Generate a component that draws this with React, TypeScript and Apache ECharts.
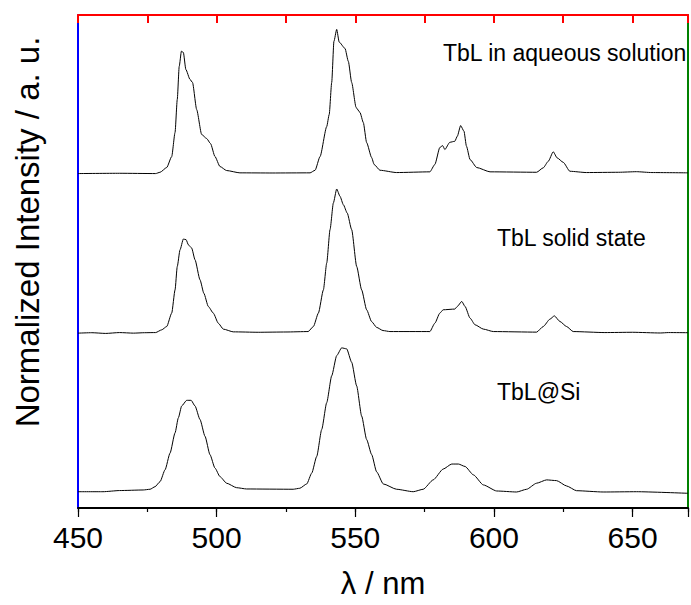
import React, { useEffect, useRef } from "react";
import * as echarts from "echarts";

// wavelength (nm), normalized intensity — TbL in aqueous solution
const aqueous: [number, number][] = [
  [450, 0], [465, 0.002], [478, 0.0], [479.6, 0.009], [482, 0.042], [483.8, 0.118], [485, 0.285],
  [485.8, 0.514], [486.5, 0.743], [487.3, 0.849], [488, 0.84], [488.9, 0.722], [490.4, 0.653],
  [491.3, 0.632], [492.8, 0.444], [494.6, 0.271], [496.4, 0.243], [497.8, 0.208], [499.4, 0.118],
  [501.2, 0.049], [503.6, 0.021], [508.4, 0.005], [520, 0.004], [533.7, 0.005], [535.5, 0.023],
  [537.3, 0.118], [539.7, 0.326], [540.6, 0.41], [541.5, 0.632], [542.3, 0.917], [543.3, 1.0],
  [544.2, 0.912], [546.3, 0.868], [547.5, 0.778], [548.7, 0.632], [550.3, 0.458], [551.7, 0.424],
  [552.9, 0.354], [554.1, 0.215], [555.9, 0.111], [556.8, 0.063], [558.9, 0.023], [564.9, 0.007],
  [576.9, 0.012], [578.7, 0.063], [580.5, 0.181], [581.5, 0.194], [582.3, 0.167], [584.1, 0.217],
  [585.9, 0.224], [586.8, 0.259], [588, 0.333], [589.2, 0.294], [590.1, 0.19], [591.4, 0.097],
  [593.8, 0.042], [598.6, 0.012], [615.4, 0.009], [617.8, 0.04], [619.6, 0.085], [621.4, 0.151],
  [622.8, 0.109], [625, 0.078], [627.4, 0.016], [633.4, 0.007], [645, 0.009], [651.4, 0.013],
  [657, 0.007], [670, 0.005],
];

// TbL solid state
const solid: [number, number][] = [
  [450, 0], [455, 0.003], [460, -0.002], [465, 0.004], [470, 0.0], [474, 0.003], [478, 0.004],
  [480.2, 0.023], [482, 0.046], [483.8, 0.139], [485, 0.3], [485.8, 0.462], [486.8, 0.578],
  [488, 0.653], [489, 0.648], [489.8, 0.613], [491, 0.59], [492.2, 0.509], [494, 0.37],
  [495.4, 0.276], [497, 0.185], [498.8, 0.139], [500.6, 0.069], [502.4, 0.028], [506, 0.009],
  [515, 0.006], [525, 0.008], [533, 0.011], [534.9, 0.046], [536.7, 0.139], [538.5, 0.3],
  [539.7, 0.486], [540.9, 0.718], [542.1, 0.903], [543.3, 1.0], [544.5, 0.949], [545.7, 0.891],
  [547.1, 0.833], [548.7, 0.718], [550.5, 0.463], [552.3, 0.3], [554.1, 0.162], [555.9, 0.08],
  [557.7, 0.04], [560, 0.018], [562.5, 0.011], [576.9, 0.011], [578.7, 0.069], [580.5, 0.139],
  [581.7, 0.162], [585.9, 0.167], [586.8, 0.185], [588.4, 0.22], [589.6, 0.185], [591.4, 0.104],
  [593.2, 0.058], [596.2, 0.028], [599.8, 0.011], [615.4, 0.007], [617.8, 0.046], [620.2, 0.097],
  [621.8, 0.12], [623.8, 0.081], [626.2, 0.046], [628.6, 0.011], [640, 0.004], [650, 0.006],
  [660, 0.001], [663, 0.004], [670, 0.003],
];

// TbL@Si
const silica: [number, number][] = [
  [450, 0.002], [459, 0.002], [465, 0.01], [473.5, 0.014], [476, 0.019], [477.8, 0.037],
  [479.6, 0.072], [481.4, 0.154], [483.2, 0.27], [485, 0.41], [486.2, 0.515], [487.4, 0.597],
  [489.2, 0.636], [490.8, 0.636], [492.2, 0.597], [494, 0.503], [495.8, 0.387], [497.6, 0.259],
  [499.4, 0.166], [501.2, 0.107], [503.6, 0.061], [507.2, 0.03], [510.8, 0.021], [527.6, 0.019],
  [530, 0.026], [532.5, 0.056], [534.3, 0.131], [536.1, 0.247], [537.9, 0.434], [539.7, 0.62],
  [541.5, 0.806], [543.3, 0.946], [545.1, 1.0], [546.9, 0.993], [548.7, 0.9], [550.5, 0.736],
  [552.3, 0.527], [554.1, 0.364], [555.9, 0.26], [557.7, 0.14], [560.1, 0.056], [564.9, 0.019],
  [570.9, 0.002], [574.5, 0.019], [578.1, 0.084], [581.7, 0.159], [584.8, 0.194], [587.2, 0.194],
  [589.6, 0.177], [592.6, 0.119], [596.2, 0.049], [601, 0.007], [608.2, 0.0], [611.8, 0.019],
  [615.4, 0.061], [619, 0.084], [622.6, 0.079], [626.2, 0.042], [629.8, 0.009], [639.4, 0.0],
  [651.4, 0.002], [670, -0.009],
];

// vertical stacking offsets of the three spectra
const offsetAqueous = 2.32;
const offsetSolid = 1.213;
const offsetSilica = 0.111;

const xTicks = [450, 500, 550, 600, 650];
const xMax = 670;
const labels = ["TbL in aqueous solution", "TbL solid state", "TbL@Si"];

const FONT = "'Liberation Sans', Arial, Helvetica, sans-serif";
const INK = "#000";

const G = { left: 78, right: 3, top: 15, bottom: 97, W: 691, H: 605 };

export default function App() {
  const ref = useRef<HTMLDivElement>(null);
  useEffect(() => {
    if (!ref.current) return;
    const chart = echarts.init(ref.current, null, { renderer: "svg" });
    const shift = (d: [number, number][], o: number) => d.map(([x, y]) => [x, y + o]);
    const mk = (name: string, d: [number, number][], o: number) => ({
      name,
      type: "line",
      data: shift(d, o),
      showSymbol: false,
      smooth: 0.2,
      smoothMonotone: "x",
      lineStyle: { color: INK, width: 1 },
      xAxisIndex: 0,
      yAxisIndex: 0,
    });
    const frameLine = (c: string) => ({ show: true, onZero: false, lineStyle: { color: c, width: 2 } });
    chart.setOption({
      animation: false,
      grid: { left: G.left, right: G.right, top: G.top, bottom: G.bottom },
      xAxis: [
        {
          type: "value",
          position: "bottom",
          min: xTicks[0],
          max: xMax,
          interval: 50,
          axisLine: frameLine(INK),
          axisTick: { show: true, inside: false, length: 9, lineStyle: { color: INK, width: 1.2 } },
          axisLabel: {
            show: true,
            margin: 14,
            color: INK,
            fontSize: 30,
            fontFamily: FONT,
            formatter: (v: number) => (xTicks.includes(v) ? String(v) : ""),
          },
          splitLine: { show: false },
        },
        {
          type: "value",
          position: "bottom",
          min: 450,
          max: xMax,
          interval: 25,
          axisLine: { show: false, onZero: false },
          axisTick: { show: true, inside: false, length: 4, lineStyle: { color: INK, width: 1.2 } },
          axisLabel: { show: false },
          splitLine: { show: false },
        },
        {
          type: "value",
          position: "top",
          min: 450,
          max: xMax,
          interval: 25,
          axisLine: frameLine("red"),
          axisTick: { show: true, inside: true, length: 8, lineStyle: { color: "red", width: 2 } },
          axisLabel: { show: false },
          splitLine: { show: false },
        },
      ],
      yAxis: [
        {
          type: "value",
          position: "left",
          min: 0,
          max: 3.42,
          axisLine: frameLine("blue"),
          axisTick: { show: false },
          axisLabel: { show: false },
          splitLine: { show: false },
        },
        {
          type: "value",
          position: "right",
          min: 0,
          max: 3.42,
          axisLine: frameLine("green"),
          axisTick: { show: false },
          axisLabel: { show: false },
          splitLine: { show: false },
        },
      ],
      series: [
        mk(labels[0], aqueous, offsetAqueous),
        mk(labels[1], solid, offsetSolid),
        mk(labels[2], silica, offsetSilica),
      ],
      graphic: [
        {
          type: "text",
          x: G.left + (G.W - G.left - G.right) / 2,
          y: 583,
          style: { text: "λ / nm", fill: INK, fontSize: 31, fontFamily: FONT, align: "center", verticalAlign: "middle" },
        },
        {
          type: "text",
          x: 27,
          y: 232,
          rotation: Math.PI / 2,
          style: {
            text: "Normalized Intensity / a. u.",
            fill: INK,
            fontSize: 33,
            fontFamily: FONT,
            align: "center",
            verticalAlign: "middle",
          },
        },
        {
          type: "text",
          x: 443,
          y: 53,
          style: { text: labels[0], fill: INK, fontSize: 23, fontFamily: FONT, align: "left", verticalAlign: "middle" },
        },
        {
          type: "text",
          x: 497,
          y: 238,
          style: { text: labels[1], fill: INK, fontSize: 23, fontFamily: FONT, align: "left", verticalAlign: "middle" },
        },
        {
          type: "text",
          x: 497,
          y: 392,
          style: { text: labels[2], fill: INK, fontSize: 23, fontFamily: FONT, align: "left", verticalAlign: "middle" },
        },
      ],
    });
    return () => chart.dispose();
  }, []);
  return (
    <div
      ref={ref}
      style={{ position: "absolute", left: 0, top: 0, width: G.W, height: G.H, background: "#fff" }}
    />
  );
}
